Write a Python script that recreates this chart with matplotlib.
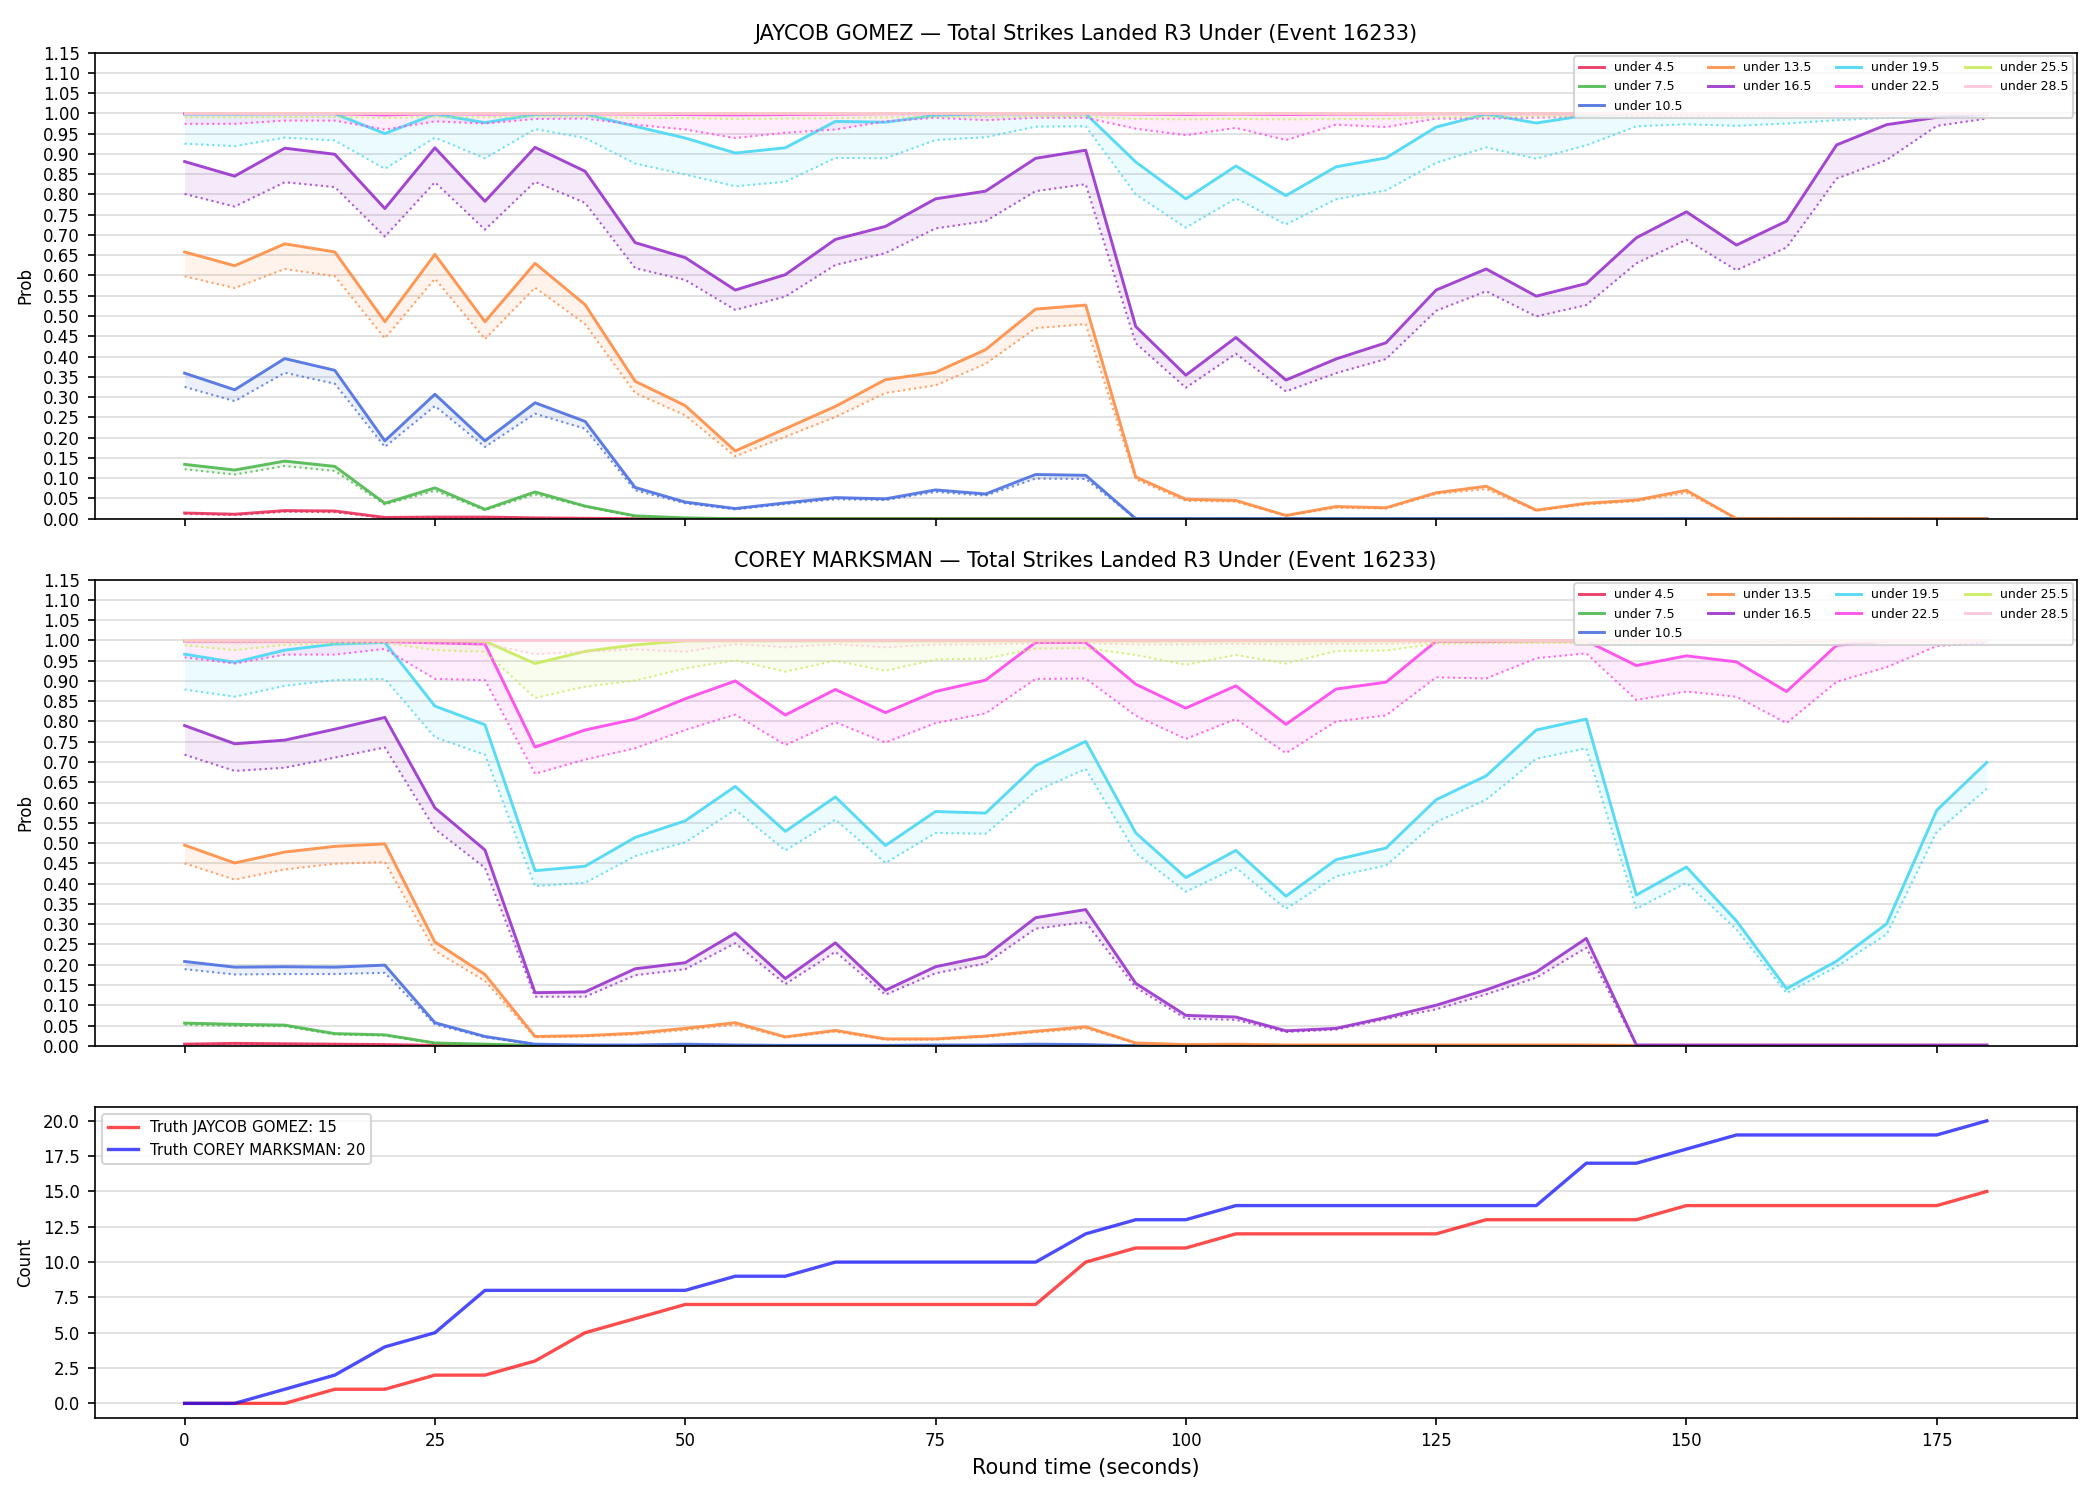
import matplotlib
matplotlib.use("Agg")
import matplotlib.pyplot as plt
import numpy as np

# ---------------- data ----------------
time_s = list(range(0, 181, 5))
thresholds = ["under 4.5", "under 7.5", "under 10.5", "under 13.5", "under 16.5",
              "under 19.5", "under 22.5", "under 25.5", "under 28.5"]
colors = ["#e8305a", "#4cb84c", "#4a6fe0", "#ff8c42", "#9932cc",
          "#48d8f4", "#ff45ec", "#c8ec5a", "#ffc6d6"]

Z6 = [0.0] * 6

# JAYCOB GOMEZ (solid = prob, dotted = lower band)
g_u45 = [0.014, 0.011, 0.020, 0.019, 0.003, 0.004, 0.004, 0.002, 0.001] + [0.0] * 28
g_u45_lo = [0.012, 0.009, 0.017, 0.016, 0.002, 0.003, 0.003, 0.001, 0.001] + [0.0] * 28
g_u75 = [0.134, 0.120, 0.142, 0.129, 0.038, 0.076, 0.023, 0.066, 0.031, 0.007, 0.002] + [0.0] * 26
g_u75_lo = [0.122, 0.109, 0.130, 0.118, 0.035, 0.069, 0.021, 0.060, 0.030, 0.005, 0.001] + [0.0] * 26
g_u105 = [0.359, 0.318, 0.395, 0.366, 0.192, 0.307, 0.192, 0.286, 0.240, 0.077,
          0.041, 0.025, 0.039, 0.052, 0.049, 0.071, 0.061, 0.109, 0.107] + [0.0] * 18
g_u105_lo = [0.325, 0.290, 0.360, 0.333, 0.177, 0.278, 0.177, 0.259, 0.222, 0.070,
             0.038, 0.023, 0.036, 0.048, 0.046, 0.066, 0.057, 0.099, 0.098] + [0.0] * 18
g_u135 = [0.658, 0.624, 0.678, 0.658, 0.486, 0.652, 0.486, 0.630, 0.528, 0.339,
          0.279, 0.167, 0.222, 0.277, 0.343, 0.361, 0.417, 0.517, 0.527, 0.103,
          0.048, 0.045, 0.008, 0.030, 0.027, 0.064, 0.080, 0.021, 0.038, 0.046,
          0.070] + Z6
g_u135_lo = [0.598, 0.569, 0.616, 0.598, 0.445, 0.592, 0.443, 0.570, 0.480, 0.310,
             0.255, 0.154, 0.202, 0.251, 0.310, 0.329, 0.382, 0.470, 0.480, 0.097,
             0.044, 0.042, 0.007, 0.027, 0.025, 0.061, 0.073, 0.020, 0.035, 0.043,
             0.064] + Z6
g_u165 = [0.881, 0.845, 0.914, 0.899, 0.765, 0.915, 0.783, 0.916, 0.857, 0.681,
          0.644, 0.564, 0.602, 0.689, 0.721, 0.789, 0.808, 0.889, 0.909, 0.474,
          0.354, 0.447, 0.342, 0.394, 0.434, 0.564, 0.616, 0.549, 0.580, 0.693,
          0.757, 0.675, 0.734, 0.922, 0.972, 0.990, 0.998]
g_u165_lo = [0.801, 0.770, 0.830, 0.818, 0.696, 0.830, 0.713, 0.831, 0.779, 0.618,
             0.589, 0.515, 0.548, 0.626, 0.655, 0.716, 0.734, 0.808, 0.825, 0.433,
             0.323, 0.407, 0.314, 0.359, 0.394, 0.513, 0.561, 0.499, 0.527, 0.630,
             0.688, 0.613, 0.669, 0.839, 0.885, 0.969, 0.987]
g_u195 = [0.998, 0.998, 0.999, 0.999, 0.950, 0.998, 0.977, 0.997, 0.998, 0.968,
          0.939, 0.902, 0.915, 0.980, 0.978, 0.995, 0.999, 0.999, 0.999, 0.880,
          0.789, 0.870, 0.797, 0.868, 0.890, 0.966, 0.998, 0.976, 0.995, 0.999,
          0.999, 0.999, 0.999, 0.999, 0.999, 0.999, 0.999]
g_u195_lo = [0.925, 0.919, 0.940, 0.933, 0.863, 0.940, 0.889, 0.961, 0.939, 0.876,
             0.849, 0.820, 0.831, 0.890, 0.889, 0.934, 0.941, 0.967, 0.968, 0.800,
             0.718, 0.790, 0.726, 0.788, 0.810, 0.878, 0.916, 0.888, 0.921, 0.968,
             0.973, 0.969, 0.975, 0.983, 0.989, 0.992, 0.994]
g_u225 = [0.999, 0.999, 0.999, 0.999, 0.996, 0.999, 0.998, 0.999, 0.999, 0.998,
          0.997, 0.996, 0.997, 0.998, 0.999, 0.999, 0.999, 0.999, 0.999, 0.998,
          0.997, 0.998, 0.997, 0.998, 0.998, 0.999, 0.999, 0.999, 0.999, 0.999,
          0.999, 0.999, 0.999, 0.999, 0.999, 0.999, 0.999]
g_u225_lo = [0.974, 0.974, 0.982, 0.982, 0.960, 0.980, 0.975, 0.986, 0.987, 0.972,
             0.960, 0.939, 0.952, 0.960, 0.980, 0.989, 0.983, 0.989, 0.989, 0.962,
             0.946, 0.964, 0.934, 0.972, 0.966, 0.987, 0.987, 0.989, 0.992, 0.993,
             0.994, 0.995, 0.995, 0.996, 0.996, 0.997, 0.997]
g_u255 = [1.0] * 37
g_u255_lo = [0.990, 0.990, 0.991, 0.991, 0.988, 0.991, 0.990, 0.992, 0.991, 0.989,
             0.988, 0.986, 0.987, 0.988, 0.990, 0.991, 0.991, 0.992, 0.992, 0.986,
             0.985, 0.986, 0.985, 0.986, 0.986, 0.990, 0.991, 0.992, 0.993, 0.994,
             0.995, 0.995, 0.996, 0.996, 0.997, 0.997, 0.998]
g_u285 = [1.0] * 37
g_u285_lo = [0.998] * 37

# COREY MARKSMAN
m_u45 = [0.004, 0.006, 0.005, 0.004, 0.003, 0.001] + [0.0] * 31
m_u45_lo = [0.003, 0.005, 0.004, 0.003, 0.002, 0.001] + [0.0] * 31
m_u75 = [0.056, 0.053, 0.051, 0.030, 0.027, 0.007, 0.004, 0.001] + [0.0] * 29
m_u75_lo = [0.052, 0.049, 0.048, 0.028, 0.025, 0.006, 0.003, 0.001] + [0.0] * 29
m_u105 = [0.208, 0.194, 0.195, 0.194, 0.199, 0.057, 0.023, 0.004, 0.002, 0.002,
          0.004, 0.002, 0.001, 0.001, 0.001, 0.002, 0.002, 0.004, 0.003] + [0.0] * 18
m_u105_lo = [0.189, 0.176, 0.177, 0.177, 0.180, 0.053, 0.021, 0.003, 0.002, 0.002,
             0.003, 0.002, 0.001, 0.001, 0.001, 0.002, 0.002, 0.003, 0.002] + [0.0] * 18
m_u135 = [0.495, 0.451, 0.478, 0.492, 0.498, 0.256, 0.176, 0.023, 0.025, 0.031,
          0.043, 0.057, 0.022, 0.038, 0.017, 0.017, 0.024, 0.036, 0.047, 0.007,
          0.003, 0.004, 0.002, 0.002, 0.002, 0.002, 0.002, 0.002, 0.002, 0.001,
          0.001, 0.001, 0.001, 0.001, 0.001, 0.001, 0.001]
m_u135_lo = [0.450, 0.410, 0.435, 0.449, 0.453, 0.234, 0.160, 0.021, 0.023, 0.028,
             0.039, 0.052, 0.020, 0.035, 0.015, 0.015, 0.022, 0.033, 0.043, 0.006,
             0.002, 0.003, 0.001, 0.001, 0.001, 0.001, 0.001, 0.001, 0.001, 0.001,
             0.001, 0.001, 0.001, 0.001, 0.001, 0.001, 0.001]
m_u165 = [0.790, 0.745, 0.754, 0.781, 0.810, 0.587, 0.483, 0.131, 0.133, 0.190,
          0.205, 0.278, 0.166, 0.254, 0.137, 0.195, 0.221, 0.316, 0.336, 0.154,
          0.075, 0.071, 0.037, 0.043, 0.070, 0.100, 0.138, 0.182, 0.265, 0.002,
          0.002, 0.002, 0.002, 0.002, 0.002, 0.002, 0.002]
m_u165_lo = [0.718, 0.678, 0.686, 0.711, 0.736, 0.535, 0.439, 0.121, 0.121, 0.174,
             0.189, 0.253, 0.152, 0.232, 0.126, 0.179, 0.203, 0.289, 0.305, 0.144,
             0.067, 0.064, 0.034, 0.040, 0.066, 0.090, 0.127, 0.168, 0.242, 0.001,
             0.001, 0.001, 0.001, 0.001, 0.001, 0.001, 0.001]
m_u195 = [0.966, 0.946, 0.976, 0.991, 0.995, 0.838, 0.792, 0.432, 0.443, 0.514,
          0.555, 0.640, 0.529, 0.614, 0.494, 0.578, 0.574, 0.691, 0.751, 0.525,
          0.415, 0.482, 0.369, 0.459, 0.488, 0.607, 0.666, 0.779, 0.806, 0.372,
          0.441, 0.308, 0.141, 0.209, 0.301, 0.581, 0.699]
m_u195_lo = [0.879, 0.861, 0.888, 0.902, 0.905, 0.761, 0.718, 0.394, 0.402, 0.468,
             0.502, 0.582, 0.482, 0.558, 0.451, 0.525, 0.523, 0.628, 0.683, 0.476,
             0.380, 0.439, 0.338, 0.418, 0.445, 0.552, 0.607, 0.708, 0.734, 0.338,
             0.402, 0.287, 0.130, 0.195, 0.275, 0.528, 0.634]
m_u225 = [0.998, 0.998, 0.998, 0.998, 0.997, 0.994, 0.991, 0.737, 0.779, 0.806,
          0.856, 0.900, 0.816, 0.879, 0.822, 0.874, 0.902, 0.995, 0.995, 0.892,
          0.833, 0.888, 0.793, 0.880, 0.897, 0.998, 0.997, 0.999, 0.999, 0.938,
          0.962, 0.947, 0.874, 0.988, 0.999, 0.999, 0.999]
m_u225_lo = [0.958, 0.943, 0.965, 0.965, 0.979, 0.905, 0.902, 0.671, 0.706, 0.734,
             0.779, 0.817, 0.742, 0.798, 0.748, 0.796, 0.820, 0.905, 0.906, 0.814,
             0.757, 0.806, 0.722, 0.800, 0.815, 0.909, 0.906, 0.956, 0.968, 0.853,
             0.874, 0.861, 0.796, 0.898, 0.934, 0.986, 0.994]
m_u255 = [0.999, 0.999, 0.999, 0.999, 0.999, 0.999, 0.998, 0.943, 0.973, 0.989,
          0.999, 0.999, 0.999, 0.999, 0.999, 0.999, 0.999, 0.999, 0.999, 0.999,
          0.999, 0.999, 0.999, 0.999, 0.999, 0.999, 0.999, 0.999, 0.999, 0.999,
          0.999, 0.999, 0.999, 0.999, 0.999, 0.999, 0.999]
m_u255_lo = [0.988, 0.976, 0.989, 0.993, 0.994, 0.976, 0.972, 0.858, 0.886, 0.901,
             0.931, 0.951, 0.923, 0.950, 0.925, 0.953, 0.955, 0.980, 0.981, 0.964,
             0.940, 0.964, 0.943, 0.974, 0.975, 0.992, 0.993, 0.994, 0.994, 0.995,
             0.995, 0.996, 0.996, 0.996, 0.997, 0.997, 0.997]
m_u285 = [1.0] * 37
m_u285_lo = [0.995, 0.993, 0.995, 0.996, 0.996, 0.992, 0.992, 0.966, 0.972, 0.978,
             0.972, 0.991, 0.983, 0.991, 0.983, 0.990, 0.990, 0.993, 0.993, 0.990,
             0.990, 0.991, 0.990, 0.991, 0.991, 0.995, 0.995, 0.996, 0.996, 0.995,
             0.995, 0.995, 0.994, 0.996, 0.997, 0.998, 0.998]

truth_gomez = [0, 0, 0, 1, 1, 2, 2, 3, 5, 6, 7, 7, 7, 7, 7, 7, 7, 7, 10, 11,
               11, 12, 12, 12, 12, 12, 13, 13, 13, 13, 14, 14, 14, 14, 14, 14, 15]
truth_marksman = [0, 0, 1, 2, 4, 5, 8, 8, 8, 8, 8, 9, 9, 10, 10, 10, 10, 10, 12, 13,
                  13, 14, 14, 14, 14, 14, 14, 14, 17, 17, 18, 19, 19, 19, 19, 19, 20]

gomez_series = [(g_u45, g_u45_lo), (g_u75, g_u75_lo), (g_u105, g_u105_lo),
                (g_u135, g_u135_lo), (g_u165, g_u165_lo), (g_u195, g_u195_lo),
                (g_u225, g_u225_lo), (g_u255, g_u255_lo), (g_u285, g_u285_lo)]
marksman_series = [(m_u45, m_u45_lo), (m_u75, m_u75_lo), (m_u105, m_u105_lo),
                   (m_u135, m_u135_lo), (m_u165, m_u165_lo), (m_u195, m_u195_lo),
                   (m_u225, m_u225_lo), (m_u255, m_u255_lo), (m_u285, m_u285_lo)]

# ---------------- plot ----------------
plt.rcParams['font.family'] = ['DejaVu Sans']
fig = plt.figure(figsize=(14, 10), dpi=150)
gs = fig.add_gridspec(3, 1, height_ratios=[3, 3, 2], left=0.045, right=0.989,
                      top=0.965, bottom=0.055, hspace=0.147)
ax1 = fig.add_subplot(gs[0])
ax2 = fig.add_subplot(gs[1], sharex=ax1)
ax3 = fig.add_subplot(gs[2], sharex=ax1)

x = np.array(time_s)

def draw_panel(ax, series, title):
    for (solid, lo), lab, c in zip(series, thresholds, colors):
        ax.fill_between(x, lo, solid, color=c, alpha=0.1, linewidth=0)
        ax.plot(x, lo, color=c, lw=1.0, ls=':', alpha=0.8)
        ax.plot(x, solid, color=c, lw=1.4, alpha=0.9, label=lab)
    ax.set_ylim(0, 1.15)
    ax.set_yticks(np.arange(0, 1.151, 0.05))
    ax.set_ylabel("Prob", fontsize=8)
    ax.set_title(title, fontsize=10)
    ax.grid(axis='y', color='#dddddd', lw=0.8)
    ax.set_axisbelow(True)
    ax.tick_params(labelsize=8)
    ax.legend(loc='upper right', ncol=4, fontsize=6, framealpha=0.8,
              handlelength=2.0, borderaxespad=0.3)
    plt.setp(ax.get_xticklabels(), visible=False)

draw_panel(ax1, gomez_series, "JAYCOB GOMEZ — Total Strikes Landed R3 Under (Event 16233)")
draw_panel(ax2, marksman_series, "COREY MARKSMAN — Total Strikes Landed R3 Under (Event 16233)")

ax3.plot(x, truth_gomez, color='red', alpha=0.7, lw=1.6, label="Truth JAYCOB GOMEZ: 15")
ax3.plot(x, truth_marksman, color='blue', alpha=0.7, lw=1.6, label="Truth COREY MARKSMAN: 20")
ax3.set_ylabel("Count", fontsize=8)
ax3.set_xlabel("Round time (seconds)", fontsize=10)
ax3.grid(axis='y', color='#dddddd', lw=0.8)
ax3.set_axisbelow(True)
ax3.tick_params(labelsize=8)
ax3.legend(loc='upper left', fontsize=7.2, framealpha=0.8)

fig.savefig("out.png", dpi=150)
